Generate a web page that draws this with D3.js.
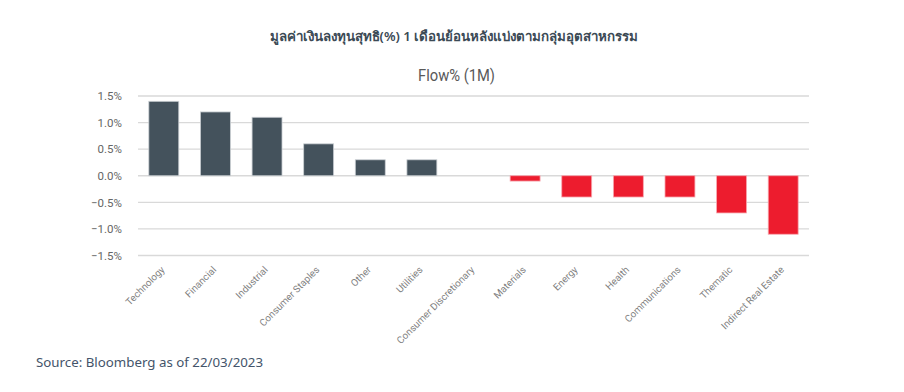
<!DOCTYPE html>
<html><head><meta charset="utf-8">
<script src="https://cdn.jsdelivr.net/npm/d3@7"></script>
<style>body{margin:0;background:#fff;}svg{display:block;}</style>
</head><body>
<svg id="c" width="904" height="392"></svg>
<script>
const categories = ["Technology","Financial","Industrial","Consumer Staples","Other","Utilities","Consumer Discretionary","Materials","Energy","Health","Communications","Thematic","Indirect Real Estate"];
const values = [1.4,1.2,1.1,0.6,0.3,0.3,0,-0.1,-0.4,-0.4,-0.4,-0.7,-1.1];
const yTicks = [1.5,1.0,0.5,0.0,-0.5,-1.0,-1.5];
const titleText = "มูลค่าเงินลงทุนสุทธิ(%) 1 เดือนย้อนหลังแบ่งตามกลุ่มอุตสาหกรรม";
const subTitle = "Flow% (1M)";
const sourceText = "Source: Bloomberg as of 22/03/2023";

const svg = d3.select("#c");
const x = d3.scaleBand().domain(categories).range([138,809]).paddingInner(0.42).paddingOuter(0.21);
const y = d3.scaleLinear().domain([-1.5,1.5]).range([255.5,96]);

svg.append("text").attr("x",454).attr("y",41).attr("text-anchor","middle")
  .attr("font-family","'Noto Sans', sans-serif").attr("font-size",13.3).attr("font-weight",600)
  .attr("fill","#3b4a55").text(titleText);
svg.append("text").attr("x",456.5).attr("y",80.5).attr("text-anchor","middle")
  .attr("font-family","Roboto, 'Liberation Sans', sans-serif").attr("font-size",16.5)
  .attr("textLength",77).attr("lengthAdjust","spacingAndGlyphs")
  .attr("fill","#595959").text(subTitle);

svg.append("g").selectAll("line").data(yTicks).join("line")
  .attr("x1",138).attr("x2",809).attr("y1",d=>y(d)).attr("y2",d=>y(d))
  .attr("stroke","#d9d9d9").attr("stroke-width",1.3);

const yAxis = d3.axisLeft(y).tickValues(yTicks).tickSize(0).tickPadding(0)
  .tickFormat(d=>d3.format(".1f")(d)+"%");
const gy = svg.append("g").attr("transform","translate(122,0)").call(yAxis);
gy.select(".domain").remove();
gy.selectAll("text").attr("font-family","Roboto, 'Liberation Sans', sans-serif").attr("font-size",11.5).attr("fill","#666666");

svg.append("g").selectAll("rect").data(categories).join("rect")
  .attr("x",d=>x(d)).attr("width",x.bandwidth())
  .attr("y",(d,i)=>y(Math.max(0,values[i])))
  .attr("height",(d,i)=>Math.abs(y(values[i])-y(0)))
  .attr("fill",(d,i)=>values[i]>=0?"#44525c":"#ed1c2e")
  .attr("stroke",(d,i)=>values[i]>=0?"#c9ced2":"#f7a9b0").attr("stroke-width",0.8);

const xAxis = d3.axisBottom(x).tickSize(0).tickPadding(0);
const gx = svg.append("g").attr("transform","translate(0,266)").call(xAxis);
gx.select(".domain").remove();
gx.selectAll("text").attr("font-family","Roboto, 'Liberation Sans', sans-serif").attr("font-size",9.8)
  .attr("fill","#7f7f7f").attr("text-anchor","end").attr("dy","0.35em")
  .attr("transform","translate(-1,2) rotate(-45)");

svg.append("text").attr("x",36).attr("y",367)
  .attr("font-family","'Noto Sans', sans-serif").attr("font-size",13.3)
  .attr("fill","#44546a").text(sourceText);
</script>
</body></html>
